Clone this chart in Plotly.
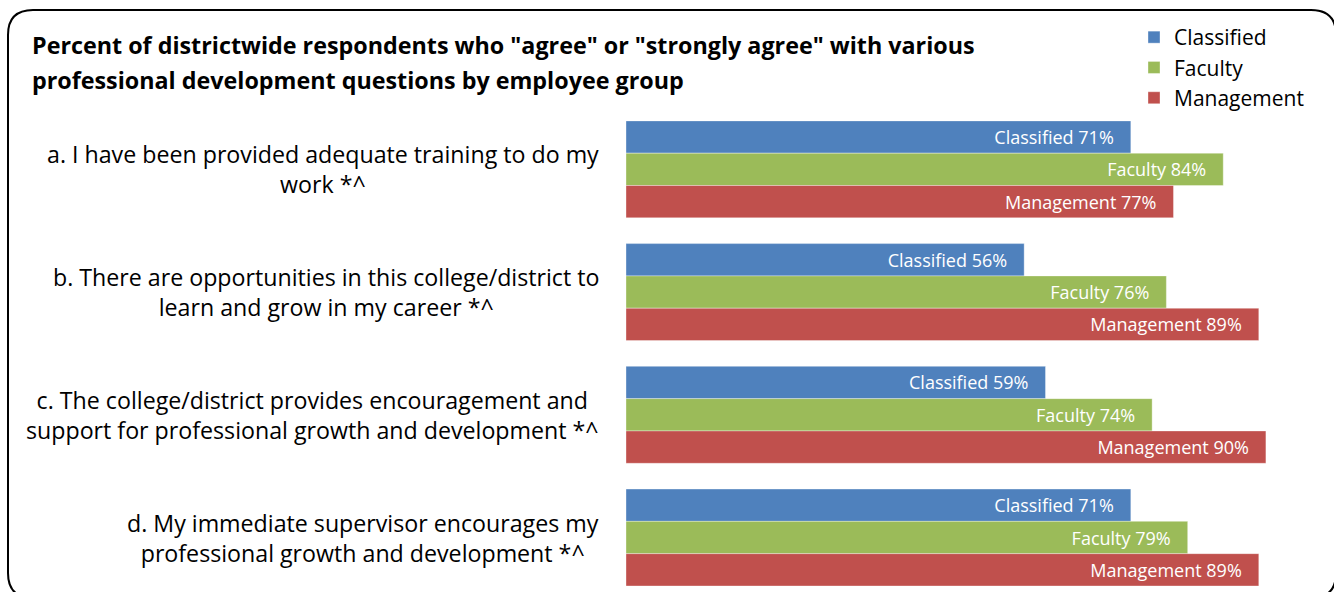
import plotly.graph_objects as go

# Survey questions (y categories) and the share answering agree / strongly agree
questions = [
    "a. I have been provided adequate training to do my<br>work *^",
    "b. There are opportunities in this college/district to<br>learn and grow in my career *^",
    "c. The college/district provides encouragement and<br>support for professional growth and development *^",
    "d. My immediate supervisor encourages my<br>professional growth and development *^",
]
groups = ["Classified", "Faculty", "Management"]
classified = [71, 56, 59, 71]
faculty = [84, 76, 74, 79]
management = [77, 89, 90, 89]
colors = ["#4F81BD", "#9BBB59", "#C0504D"]

title_lines = [
    'Percent of districtwide respondents who "agree" or "strongly agree" with various',
    "professional development questions by employee group",
]

W, H = 1334, 592
M_L, M_T = 626, 108
PLOT_W, PLOT_H = W - M_L, H - M_T
FONT = "Open Sans"

cat_idx = list(range(len(questions)))

fig = go.Figure()
for name, vals, col in zip(groups, [classified, faculty, management], colors):
    fig.add_trace(go.Bar(
        name=name,
        x=vals,
        y=cat_idx,
        orientation="h",
        marker=dict(color=col, line=dict(color="rgba(255,255,255,0.35)", width=1)),
        text=[f"{name} {v}%\u00a0\u00a0\u00a0" for v in vals],
        textposition="inside",
        insidetextanchor="end",
        textangle=0,
        textfont=dict(family=FONT, size=18, color="white"),
        hoverinfo="skip",
    ))


def px_x(px):
    return (px - M_L) / PLOT_W


def px_y(py):
    return (H - py) / PLOT_H


# rounded frame around the whole chart
x0, y0, x1, y1, r = 8, 10, 1336, 598, 25
frame = (
    f"M {px_x(x0)},{px_y(y0 + r)} "
    f"Q {px_x(x0)},{px_y(y0)} {px_x(x0 + r)},{px_y(y0)} "
    f"L {px_x(x1 - r)},{px_y(y0)} "
    f"Q {px_x(x1)},{px_y(y0)} {px_x(x1)},{px_y(y0 + r)} "
    f"L {px_x(x1)},{px_y(y1 - r)} "
    f"Q {px_x(x1)},{px_y(y1)} {px_x(x1 - r)},{px_y(y1)} "
    f"L {px_x(x0 + r)},{px_y(y1)} "
    f"Q {px_x(x0)},{px_y(y1)} {px_x(x0)},{px_y(y1 - r)} Z"
)

annotations = []
for i, q in enumerate(questions):
    annotations.append(dict(
        text=q, xref="paper", x=0, xanchor="right", xshift=-25,
        yref="y", y=i, yanchor="middle", align="center", showarrow=False,
        font=dict(family=FONT, size=23.2, color="black"),
    ))
for j, line in enumerate(title_lines):
    annotations.append(dict(
        text=f"<b>{line}</b>", xref="paper", x=px_x(30), xanchor="left",
        yref="paper", y=px_y(45.5 + 34 * j), yanchor="middle", align="left",
        showarrow=False, font=dict(family=FONT, size=23.3, color="black"),
    ))

fig.update_layout(
    width=W, height=H,
    margin=dict(l=M_L, r=0, t=M_T, b=0, pad=0),
    paper_bgcolor="white", plot_bgcolor="white",
    barmode="group", bargap=0.21, bargroupgap=0,
    xaxis=dict(range=[0, 100 * PLOT_W / 711], visible=False, fixedrange=True),
    yaxis=dict(range=[3.444, -0.5], visible=False, fixedrange=True),
    showlegend=True,
    legend=dict(
        x=px_x(1134), xanchor="left", y=px_y(17), yanchor="top",
        font=dict(family=FONT, size=21, color="black"),
        bgcolor="rgba(0,0,0,0)", borderwidth=0, traceorder="normal",
    ),
    shapes=[dict(type="path", xref="paper", yref="paper", path=frame,
                 line=dict(color="black", width=2), layer="above")],
    annotations=annotations,
)

fig.write_html("out.html")
